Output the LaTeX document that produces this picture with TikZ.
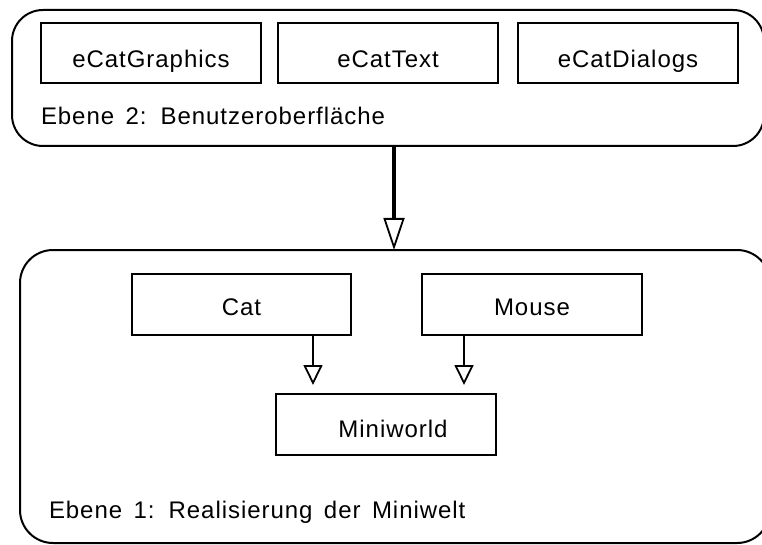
\documentclass[tikz,border=0pt]{standalone}
\usepackage{fontspec}
\setmainfont{Liberation Sans}[LetterSpace=4,WordSpace=1.5]
\usetikzlibrary{arrows.meta}
\begin{document}
\begin{tikzpicture}[x=1pt,y=-1pt,
  every node/.style={inner sep=0pt,outer sep=0pt,font=\fontsize{24}{28}\selectfont},
  layer/.style={draw,line width=2pt,rounded corners=#1},
  cls/.style={draw,line width=2pt,minimum width=220pt,minimum height=61pt,text depth=0pt},
  caption/.style={anchor=base west},
  uses/.style={line width=2pt,-{Triangle[open,length=20pt,width=19pt,line width=1.8pt]},shorten >=9pt},
  bigarrow/.style={line width=4.3pt,-{Triangle[open,length=32pt,width=21pt,line width=1.8pt]}}]
\useasboundingbox (0,0) rectangle (762,545);
% layer 2
\node[layer=31pt,minimum width=752pt,minimum height=136pt] (ebene2) at (388,78) {};
\node[cls,minimum height=60pt,text height=29pt] (g1) at (151,53) {eCatGraphics};
\node[cls,minimum height=60pt,text height=29pt] (g2) at (388,53) {eCatText};
\node[cls,minimum height=60pt,text height=29pt] (g3) at (628,53.5) {eCatDialogs};
\node[caption] (l2) at (41,125) {Ebene 2: Benutzeroberfläche};
% layer 1
\node[layer=33pt,minimum width=750pt,minimum height=293pt] (ebene1) at (395,396.5) {};
\node[cls,minimum width=219pt,text height=21pt] (cat) at (241.5,304.5) {Cat};
\node[cls,text height=21pt] (mouse) at (532,304.5) {Mouse};
\node[cls,text height=25pt] (mini) at (386,424.5) {\hspace*{14pt}Miniworld};
\node[caption] (l1) at (49,518) {Ebene 1: Realisierung der Miniwelt};
% connectors
\coordinate (ax) at (394,0);
\coordinate (cx) at (313,0);
\coordinate (mx) at (464,0);
\draw[bigarrow] (ebene2.south -| ax) -- (ebene1.north -| ax);
\draw[uses] (cat.south -| cx) -- (mini.north -| cx);
\draw[uses] (mouse.south -| mx) -- (mini.north -| mx);
\end{tikzpicture}
\end{document}
